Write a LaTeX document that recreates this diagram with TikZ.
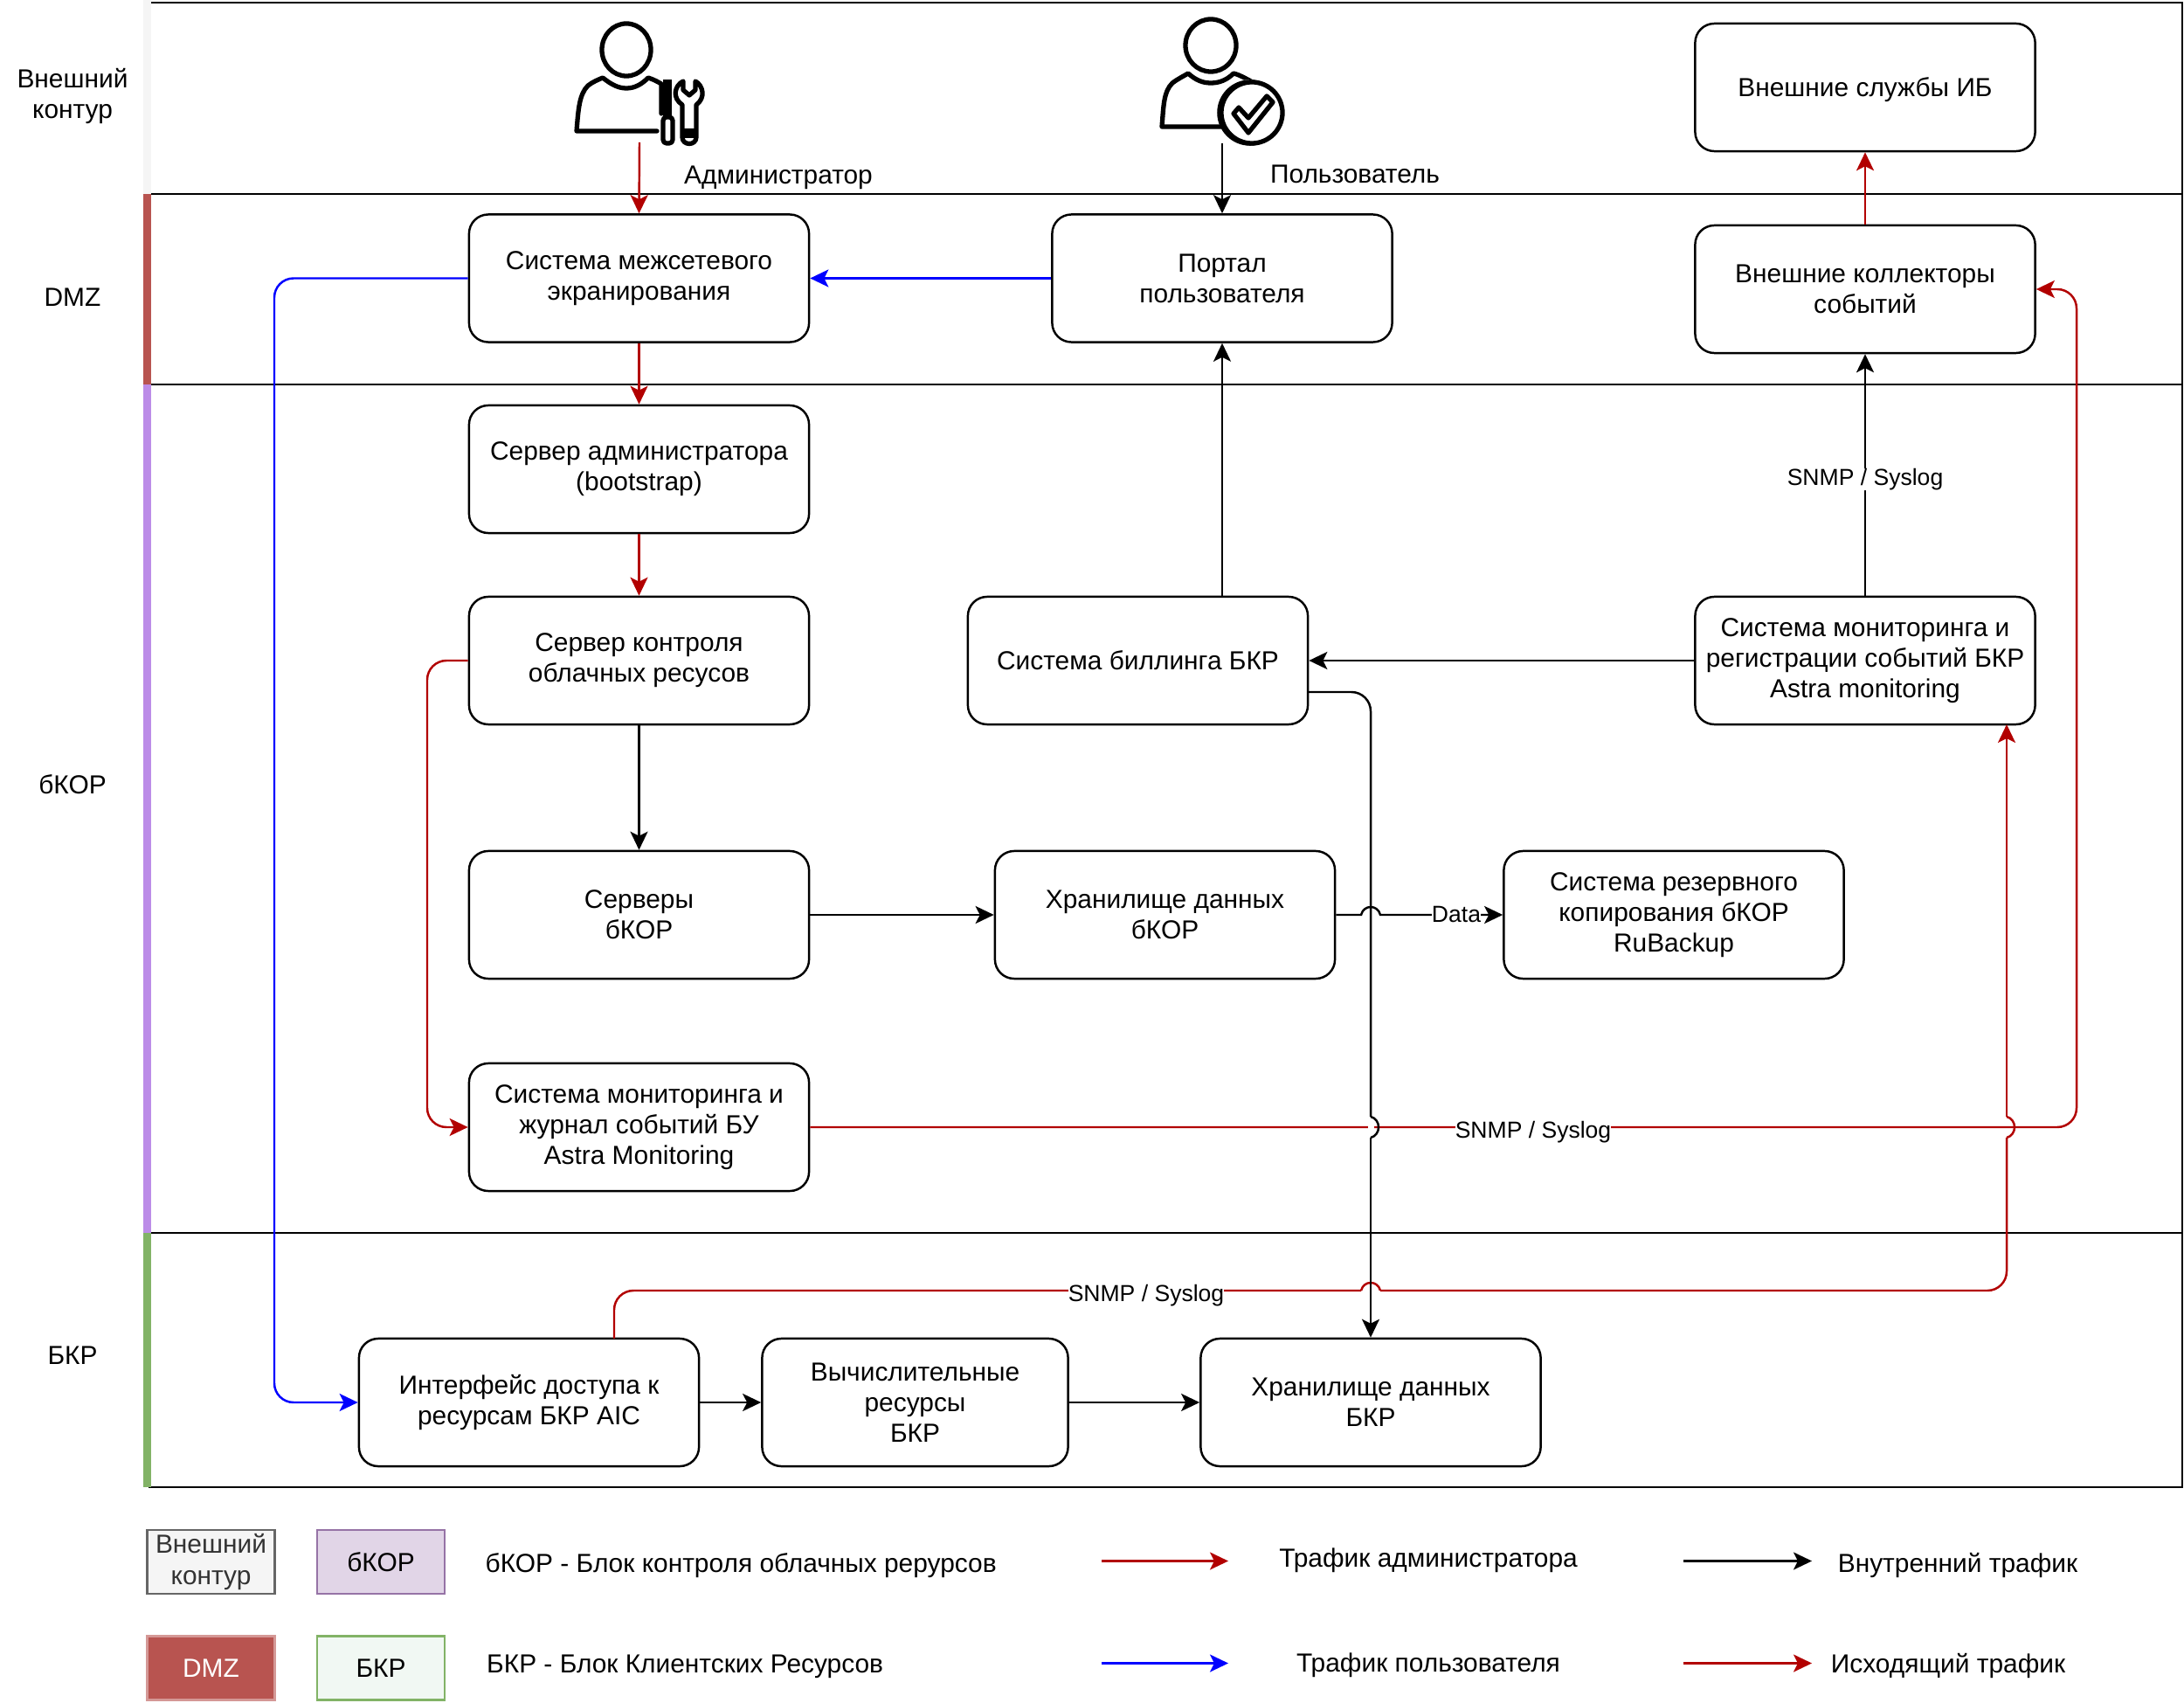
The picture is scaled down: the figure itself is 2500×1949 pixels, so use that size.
\documentclass[tikz,border=0pt]{standalone}
\usepackage{fontspec}
\setmainfont{Liberation Sans}
\usetikzlibrary{arrows.meta}
\definecolor{adminred}{HTML}{B20000}
\definecolor{userblue}{HTML}{0000FF}
\definecolor{dmzred}{HTML}{B85450}
\definecolor{korpurple}{HTML}{BC8CE8}
\definecolor{bkrgreen}{HTML}{82B366}
\definecolor{legpurple}{HTML}{E1D5E7}
\definecolor{legpurpleline}{HTML}{9673A6}
\definecolor{leggrey}{HTML}{F5F5F5}
\definecolor{leggreen}{HTML}{F1F8F3}

\begin{document}
\begin{tikzpicture}[x=0.01cm, y=-0.01cm, line width=0.7pt]
    \tikzstyle{every node}=[font=\fontsize{8.5}{10}\selectfont, text=black, align=center, inner sep=0pt]
    \tikzstyle{box}=[draw=black, fill=white, rounded corners=0.22cm, minimum width=3.89cm, minimum height=1.46cm]
    \tikzstyle{sbox}=[box, execute at begin node={\rule{0pt}{7.8pt}}]
    \tikzstyle{mbox}=[box, execute at begin node={\rule{0pt}{9.5pt}}]
    \tikzstyle{legendbox}=[draw, minimum width=1.46cm, minimum height=0.73cm, line width=0.8pt]
    \tikzstyle{edge}=[rounded corners=0.22cm, -{Stealth[length=0.21cm, width=0.2cm, inset=0.05cm]}]
    \tikzstyle{edgelabel}=[fill=white, inner sep=0pt, font=\fontsize{7.55}{9}\selectfont, yshift=-1.5pt]
    \tikzstyle{icon}=[line width=1.5pt, line join=round]

    \useasboundingbox (0,0) rectangle (2500,1949);

    % zones
    \draw (170,3) -- (2498,3) -- (2498,1702) -- (170,1702);
    \draw (170,222) -- (2498,222);
    \draw (170,440) -- (2498,440);
    \draw (170,1411) -- (2498,1411);
    \fill[black!4] (164,0) rectangle (173,222);
    \fill[dmzred] (164,222) rectangle (173,440);
    \fill[korpurple] (164,440) rectangle (173,1411);
    \fill[bkrgreen] (164,1411) rectangle (173,1702);

    \node (zone1) at (83,110) {Внешний\\контур};
    \node (zone2) at (83,340) {DMZ};
    \node (zone3) at (83,898) {бКОР};
    \node (zone4) at (83,1551) {БКР};

    % admin icon
    \draw[icon] (717,57) ellipse [x radius=0.28cm, y radius=0.30cm];
    \draw[icon, line cap=round] (752,150) -- (660,150) .. controls (662,125) and (663,108) .. (673,98)
        .. controls (678,94) and (685,91) .. (690,89) .. controls (700,97) and (708,101) .. (717,101)
        .. controls (726,101) and (734,97) .. (742,89) .. controls (748,91) and (752,93) .. (757,96) -- (757,130);
    \fill (759,91) rectangle (769,134);
    \draw[icon, fill=white, rounded corners=0.04cm] (759,134) rectangle (770,164);
    \draw[icon, fill=white] (782,93) .. controls (772,98) and (769,112) .. (781,120) -- (781,157)
        .. controls (781,167) and (797,167) .. (797,157) -- (797,120) .. controls (808,112) and (805,98) .. (796,93)
        -- (796,103) -- (789,109) -- (782,103) -- cycle;
    \fill (782,147) rectangle (796,158);

    % user icon
    \draw[icon] (1386,52) ellipse [x radius=0.29cm, y radius=0.30cm];
    \draw[icon, line cap=round] (1400,145) -- (1330,145) .. controls (1332,120) and (1332,105) .. (1342,95)
        .. controls (1347,91) and (1355,87) .. (1360,84) .. controls (1369,92) and (1377,95) .. (1386,95)
        .. controls (1395,95) and (1404,92) .. (1412,84) .. controls (1420,86) and (1426,90) .. (1432,93);
    \fill[white] (1432,129) circle [radius=0.38cm];
    \draw[line width=1pt] (1431,129) circle [radius=0.36cm];
    \draw[icon, fill=white] (1433,129) circle [radius=0.35cm];
    \draw[icon] (1412,130) -- (1418,123) -- (1429,135) -- (1450,110) -- (1457,117) -- (1429,152) -- cycle;

    \coordinate (adminpt) at (732,163);
    \coordinate (userpt) at (1399,164);
    \node (adminlbl) at (891,203) {Администратор};
    \node (userlbl) at (1551,199) {Пользователь};

    % boxes
    \node[sbox] (ext) at (2135,100) {Внешние службы ИБ};
    \node[mbox] (fw) at (731.5,318.5) {Система межсетевого\\экранирования};
    \node[mbox] (portal) at (1399,318.5) {Портал\\пользователя};
    \node[mbox] (coll) at (2135,331) {Внешние коллекторы\\событий};
    \node[mbox] (boot) at (731.5,537) {Сервер администратора\\(bootstrap)};
    \node[mbox] (ctrl) at (731.5,756) {Сервер контроля\\облачных ресусов};
    \node[box] (bill) at (1302.5,756) {Система биллинга БКР};
    \node[mbox] (mon) at (2135,756) {Система мониторинга и\\регистрации событий БКР\\Astra monitoring};
    \node[mbox] (srv) at (731.5,1047) {Серверы\\бКОР};
    \node[mbox] (stor) at (1333.5,1047) {Хранилище данных\\бКОР};
    \node[mbox] (bkp) at (1916,1047) {Система резервного\\копирования бКОР\\RuBackup};
    \node[mbox] (amon) at (731.5,1290) {Система мониторинга и\\журнал событий БУ\\Astra Monitoring};
    \node[mbox] (iface) at (605.5,1605) {Интерфейс доступа к\\ресурсам БКР AIC};
    \node[mbox, minimum width=3.5cm] (comp) at (1047.5,1605) {Вычислительные\\ресурсы\\БКР};
    \node[mbox] (bkr) at (1569,1605) {Хранилище данных\\БКР};

    % admin traffic
    \draw[edge, adminred] (adminpt) -- (fw.north);
    \draw[edge, adminred] (fw.south) -- (boot.north);
    \draw[edge, adminred] (boot.south) -- (ctrl.north);
    \draw[edge, adminred] (ctrl.west) -- (489,756) -- (489,1290) -- (amon.west);

    % user traffic
    \draw[edge, userblue] (portal.west) -- (fw.east);
    \draw[edge, userblue] (fw.west) -- (314,318.5) -- (314,1605) -- (iface.west);

    % internal traffic
    \draw[edge] (userpt) -- (portal.north);
    \draw[edge] (bill.north -| portal.south) -- (portal.south);
    \draw[edge] (mon.west) -- (bill.east);
    \draw[edge] (mon.north) -- (coll.south) node[midway, edgelabel] (snmp1) {SNMP / Syslog};
    \draw[edge] (ctrl.south) -- (srv.north);
    \draw[edge] (srv.east) -- (stor.west);
    \draw[-{Stealth[length=0.21cm, width=0.2cm, inset=0.05cm]}] (stor.east) -- (1558,1047) .. controls (1561,1035) and (1577,1035) .. (1580,1047) -- (bkp.west);
    \node[edgelabel] (datalbl) at (1667,1041) {Data};
    \draw[edge] (iface.east) -- (comp.west);
    \draw[edge] (comp.east) -- (bkr.west);

    % outgoing traffic
    \draw[edge, adminred] (coll.north) -- (ext.south);
    \draw[edge, adminred] (amon.east) -- (2377,1290) -- (2377,331) -- (coll.east);
    \node[edgelabel] (snmp2) at (1755,1290) {SNMP / Syslog};
    \draw[adminred, rounded corners=0.22cm] (703,1532) -- (703,1477) -- (1558,1477);
    \draw[adminred] (1558,1477) .. controls (1561,1465) and (1577,1465) .. (1580,1477);
    \draw[adminred, rounded corners=0.22cm] (1580,1477) -- (2297,1477) -- (2297,1302);
    \draw[adminred] (2297,1302) .. controls (2309,1299) and (2309,1281) .. (2297,1278);
    \draw[edge, adminred, rounded corners=0pt] (2297,1278) -- (2297,829);
    \node[edgelabel] (snmp3) at (1312,1477) {SNMP / Syslog};

    % billing to client storage, over the red line
    \coordinate (billout) at (1497,792);
    \draw[rounded corners=0.22cm] (billout) -- (1569,792) -- (1569,1278);
    \draw[white, line width=2pt] (1569,1280) -- (1569,1300);
    \draw (1569,1278) .. controls (1581,1281) and (1581,1299) .. (1569,1302);
    \draw[edge] (1569,1302) -- (bkr.north);

    % legend
    \node[legendbox, draw=black!60, fill=leggrey, text=black!80] (leg1) at (241.5,1787.5) {Внешний\\контур};
    \node[legendbox, draw=legpurpleline, fill=legpurple] (leg2) at (436,1787.5) {бКОР};
    \node[legendbox, draw=dmzred!60!white, fill=dmzred, text=white] (leg3) at (241.5,1909) {DMZ};
    \node[legendbox, draw=bkrgreen, fill=leggreen] (leg4) at (436,1909) {БКР};
    \node[anchor=west] (legtxt1) at (554.5,1792) {бКОР - Блок контроля облачных рерурсов};
    \node[anchor=west] (legtxt2) at (556,1907) {БКР - Блок Клиентских Ресурсов};

    \coordinate (ra1) at (1261,1786.5);
    \coordinate (ra2) at (1406,1786.5);
    \coordinate (ba1) at (1261,1903.5);
    \coordinate (ba2) at (1406,1903.5);
    \coordinate (ka1) at (1927,1786.5);
    \coordinate (ka2) at (2074,1786.5);
    \coordinate (oa1) at (1927,1903.5);
    \coordinate (oa2) at (2074,1903.5);
    \draw[edge, adminred] (ra1) -- (ra2);
    \draw[edge, userblue] (ba1) -- (ba2);
    \draw[edge] (ka1) -- (ka2);
    \draw[edge, adminred] (oa1) -- (oa2);
    \node (ratxt) at (1635,1786) {Трафик администратора};
    \node (batxt) at (1635,1906) {Трафик пользователя};
    \node (katxt) at (2241,1791) {Внутренний трафик};
    \node (oatxt) at (2230,1906) {Исходящий трафик};
\end{tikzpicture}
\end{document}
